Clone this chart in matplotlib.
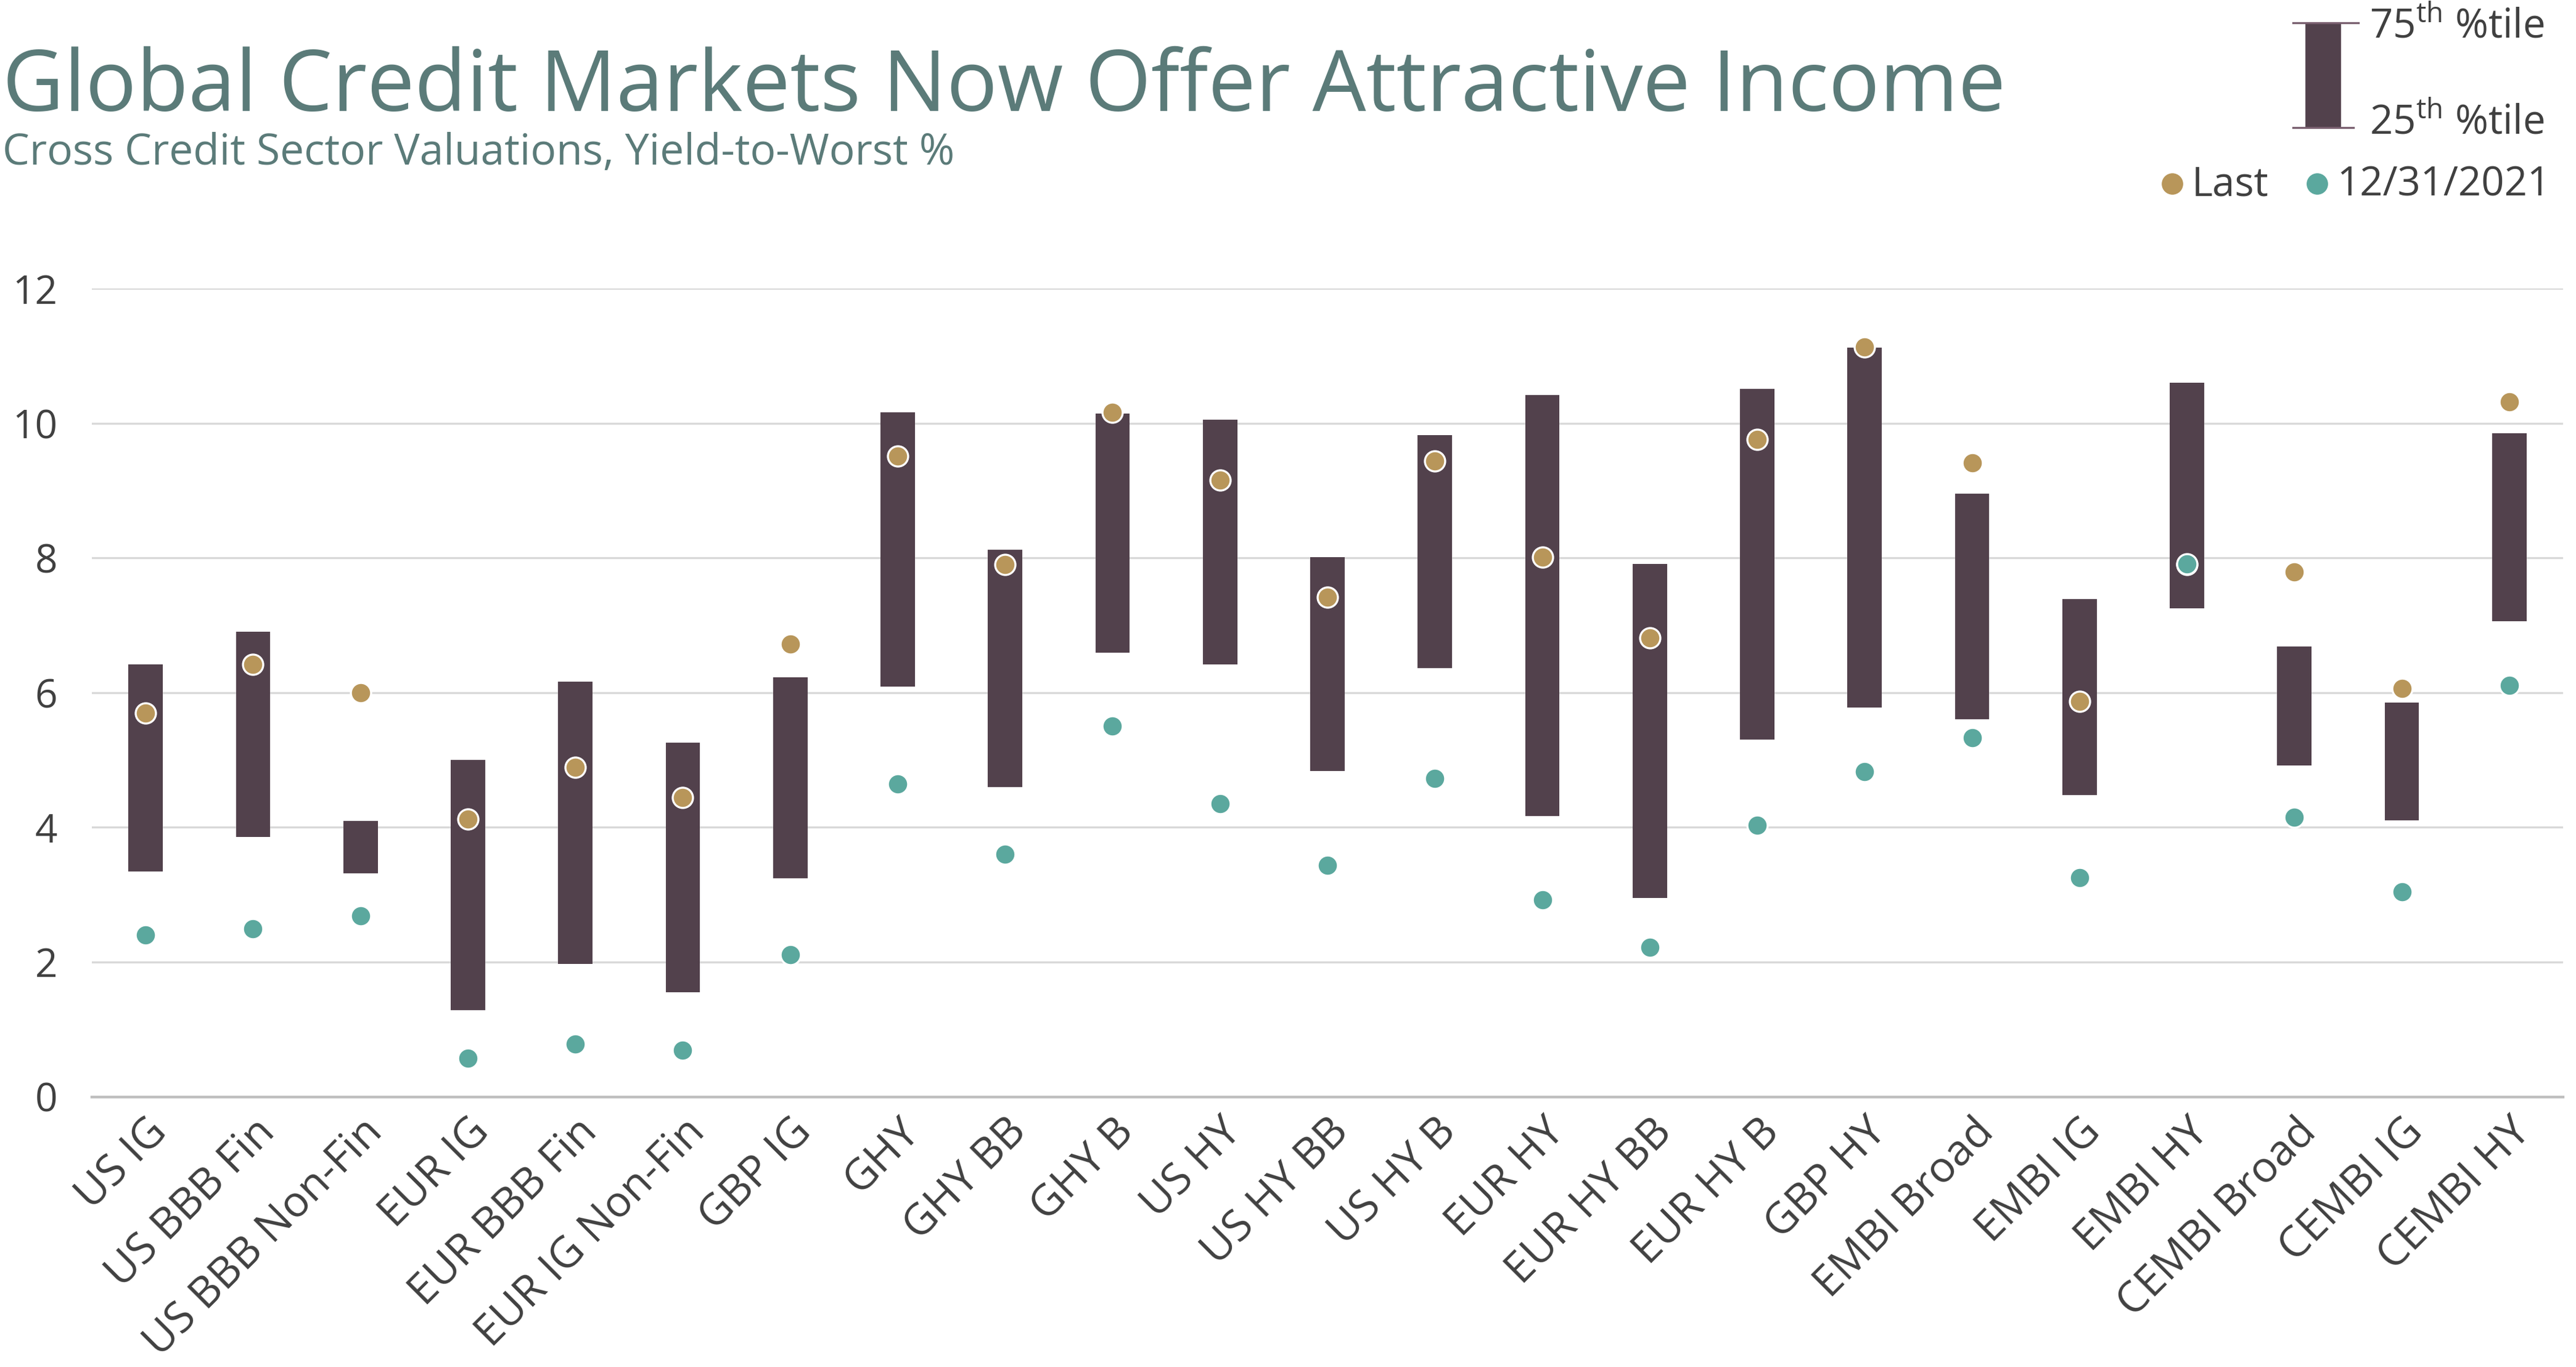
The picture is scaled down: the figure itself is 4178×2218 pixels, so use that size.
import matplotlib.pyplot as plt
from matplotlib.lines import Line2D
from matplotlib.patches import Rectangle
import numpy as np

plt.rcParams['font.family'] = ['Open Sans', 'DejaVu Sans']
plt.rcParams['mathtext.fontset'] = 'custom'
plt.rcParams['mathtext.rm'] = 'Open Sans'

# sector valuations, yield-to-worst %
sectors = ["US IG", "US BBB Fin", "US BBB Non-Fin", "EUR IG", "EUR BBB Fin",
           "EUR IG Non-Fin", "GBP IG", "GHY", "GHY BB", "GHY B", "US HY",
           "US HY BB", "US HY B", "EUR HY", "EUR HY BB", "EUR HY B", "GBP HY",
           "EMBI Broad", "EMBI IG", "EMBI HY", "CEMBI Broad", "CEMBI IG", "CEMBI HY"]
p25 = [3.34, 3.86, 3.32, 1.29, 1.97, 1.55, 3.24, 6.09, 4.60, 6.59, 6.42,
       4.84, 6.36, 4.17, 2.95, 5.30, 5.78, 5.60, 4.48, 7.25, 4.92, 4.10, 7.06]
p75 = [6.42, 6.90, 4.09, 5.00, 6.16, 5.26, 6.23, 10.16, 8.12, 10.14, 10.05,
       8.01, 9.82, 10.42, 7.91, 10.51, 11.12, 8.95, 7.39, 10.60, 6.68, 5.85, 9.85]
last = [5.70, 6.42, 6.00, 4.12, 4.89, 4.44, 6.72, 9.51, 7.90, 10.16, 9.15,
        7.42, 9.44, 8.01, 6.81, 9.76, 11.13, 9.41, 5.87, 7.90, 7.79, 6.06, 10.32]
end2021 = [2.40, 2.49, 2.69, 0.57, 0.78, 0.69, 2.11, 4.64, 3.60, 5.50, 4.35,
           3.44, 4.73, 2.92, 2.22, 4.03, 4.83, 5.33, 3.25, 7.91, 4.15, 3.04, 6.11]

bar_color = "#52414c"
gold = "#b8965a"
teal = "#5ba89e"
title_color = "#5b7b79"
text_color = "#404040"

fig = plt.figure(figsize=(20.89, 11.09), dpi=200)
ax = fig.add_axes([149 / 4178, 1 - 1779.5 / 2218, 4008 / 4178, 1311.5 / 2218])

x = np.arange(len(sectors))
ax.bar(x, np.array(p75) - np.array(p25), bottom=p25, width=0.32, color=bar_color, zorder=2)
ax.scatter(x, last, s=140, color=gold, edgecolor="white", linewidth=1.2, zorder=3)
ax.scatter(x, end2021, s=140, color=teal, edgecolor="white", linewidth=1.2, zorder=4)

ax.set_xlim(-0.5, len(sectors) - 0.5)
ax.set_ylim(0, 12)
ax.set_yticks(range(0, 13, 2))
ax.grid(axis="y", color="#d9d9d9", linewidth=1.2, zorder=0)
for s in ["top", "right", "left"]:
    ax.spines[s].set_visible(False)
ax.spines["bottom"].set_color("#bfbfbf")
ax.spines["bottom"].set_linewidth(1.6)
ax.tick_params(axis="both", length=0, colors=text_color)
ax.tick_params(axis="y", pad=20, labelsize=23)
ax.set_xticks(x)
ax.set_xticklabels(sectors, rotation=45, ha="right", va="top", rotation_mode="anchor")
ax.tick_params(axis="x", pad=8, labelsize=25)
for lbl in ax.get_yticklabels():
    lbl.set_horizontalalignment("right")

# titles
fig.text(0.001, 1 - 180 / 2218, "Global Credit Markets Now Offer Attractive Income",
         fontsize=49.5, color=title_color, va="baseline", ha="left")
fig.text(0.001, 1 - 267 / 2218, "Cross Credit Sector Valuations, Yield-to-Worst %",
         fontsize=25, color=title_color, va="baseline", ha="left")

# legend: percentile bar
fig.patches.append(Rectangle((3740 / 4178, 1 - 207 / 2218), 55 / 4178, 170 / 2218,
                             transform=fig.transFigure, color=bar_color, figure=fig))
for yy, x1 in [(37, 3825), (207, 3817)]:
    fig.lines.append(Line2D([3719 / 4178, x1 / 4178], [1 - yy / 2218] * 2,
                            transform=fig.transFigure, color="#7a6070", linewidth=1.2))
fig.text(3843 / 4178, 1 - 44 / 2218, r"75$^{\mathrm{th}}$ %tile", fontsize=23.5,
         color=text_color, va="center", ha="left")
fig.text(3843 / 4178, 1 - 200 / 2218, r"25$^{\mathrm{th}}$ %tile", fontsize=23.5,
         color=text_color, va="center", ha="left")

# legend: dots
fig.lines.append(Line2D([3523 / 4178], [1 - 298 / 2218], transform=fig.transFigure,
                        marker="o", markersize=11.5, color=gold, linestyle="none"))
fig.text(3555 / 4178, 1 - 300 / 2218, "Last", fontsize=23.5, color=text_color,
         va="center", ha="left")
fig.lines.append(Line2D([3758 / 4178], [1 - 298 / 2218], transform=fig.transFigure,
                        marker="o", markersize=11.5, color=teal, linestyle="none"))
fig.text(3790 / 4178, 1 - 300 / 2218, "12/31/2021", fontsize=23.5, color=text_color,
         va="center", ha="left")

fig.savefig("out.png", dpi=200, facecolor="white")
